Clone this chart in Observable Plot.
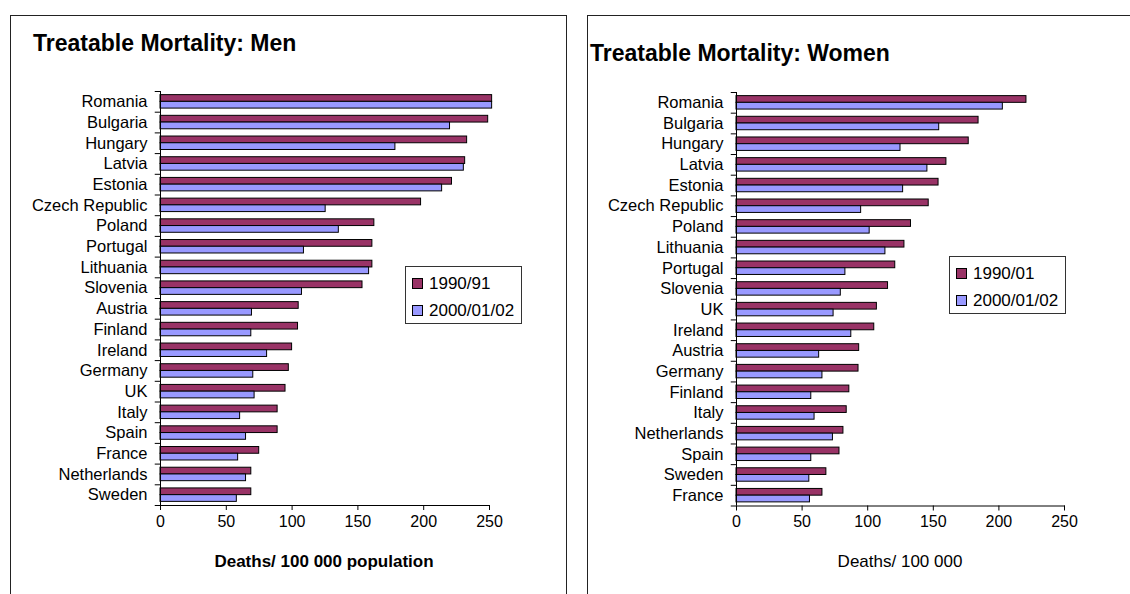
<!DOCTYPE html>
<html><head><meta charset="utf-8">
<script src="https://cdn.jsdelivr.net/npm/d3@7"></script>
<script src="https://cdn.jsdelivr.net/npm/@observablehq/plot@0.6"></script>
<style>
body{margin:0;background:#fff;font-family:"Liberation Sans",Arial,sans-serif;color:#000;}
#root{position:relative;width:1130px;height:594px;overflow:hidden;background:#fff;}
.frame{position:absolute;border:1.5px solid #222;box-sizing:border-box;}
.title{position:absolute;font-weight:bold;font-size:23px;white-space:nowrap;line-height:1;}
.plot{position:absolute;top:0;}
.xlabel{position:absolute;font-size:17px;white-space:nowrap;transform:translateX(-50%);line-height:1;}
.legend{position:absolute;border:1px solid #333;background:#fff;box-sizing:border-box;font-size:17px;}
.legend .row{position:absolute;left:6px;display:flex;align-items:center;white-space:nowrap;line-height:1;}
.legend .sw{width:9px;height:9px;border:1px solid #000;margin-right:6px;}
</style>
</head><body>
<div id="root"></div>
<script>
const series = ["1990/91", "2000/01/02"];
const seriesWomen = ["1990/01", "2000/01/02"];
const colors = ["#993366", "#9999FF"];
const xTicks = [0, 50, 100, 150, 200, 250];

const menCountries = ["Romania","Bulgaria","Hungary","Latvia","Estonia","Czech Republic","Poland","Portugal","Lithuania","Slovenia","Austria","Finland","Ireland","Germany","UK","Italy","Spain","France","Netherlands","Sweden"];
const men1990 = [252,249,233,231.5,221.5,198,162.5,161,161,153.5,105,104.5,100,97.5,95,89,89,75,69,69];
const men2000 = [252,220,178.5,230.5,214,125.5,135.5,109,158.5,107.5,69.5,69,81,70.5,71.5,60.5,65,59,65,58];

const womenCountries = ["Romania","Bulgaria","Hungary","Latvia","Estonia","Czech Republic","Poland","Lithuania","Portugal","Slovenia","UK","Ireland","Austria","Germany","Finland","Italy","Netherlands","Spain","Sweden","France"];
const women1990 = [221,184.5,177,160,154,146.5,133,128,121,115.5,107,105,93.5,93,86,84,81.5,78.5,68.5,65.5];
const women2000 = [203,154.5,125,145.5,127,95,101.5,113.5,83,79.5,74,87.5,63,65.5,57,59.5,73.5,57,55.5,56];

const root = document.getElementById("root");

function panel({countries, a, b, left, width, mTop, mBottom, mLeft, mRight}) {
  const height = 594;
  const rows = countries.map((c, i) => ({country: c, a: a[i], b: b[i]}));
  const band = (height - mTop - mBottom) / countries.length;
  const barH = band * 0.325;
  const gap = (band - 2 * barH) / 2;
  const svg = Plot.plot({
    width, height,
    marginTop: mTop, marginBottom: mBottom, marginLeft: mLeft, marginRight: mRight,
    style: {fontFamily: '"Liberation Sans", Arial, sans-serif', fontSize: "16px", color: "#000", background: "transparent", overflow: "visible"},
    x: {domain: [0, 250], label: null},
    y: {domain: countries, padding: 0, round: false, label: null},
    marks: [
      Plot.barX(rows, {y: "country", x: "a", fill: colors[0], stroke: "#000", strokeWidth: 1, insetTop: gap, insetBottom: band - gap - barH}),
      Plot.barX(rows, {y: "country", x: "b", fill: colors[1], stroke: "#000", strokeWidth: 1, insetTop: gap + barH, insetBottom: gap}),
      Plot.ruleY(countries, {y: d => d, x1: -4, x2: 0, dy: -band / 2, stroke: "#000"}),
      Plot.ruleY([countries[countries.length - 1]], {y: d => d, x1: -4, x2: 0, dy: band / 2, stroke: "#000"}),
      Plot.ruleX([0], {stroke: "#000"}),
      Plot.frame({anchor: "bottom", stroke: "#000"}),
      Plot.axisX({ticks: xTicks, tickSize: 5, tickPadding: 5, fontSize: 16, label: null}),
      Plot.axisY({tickSize: 0, tickPadding: 13, fontSize: 16.5, label: null})
    ]
  });
  svg.classList.add("plot");
  svg.style.left = left + "px";
  root.appendChild(svg);
}

function el(cls, style, html) {
  const d = document.createElement("div");
  d.className = cls;
  Object.assign(d.style, style);
  if (html != null) d.innerHTML = html;
  root.appendChild(d);
  return d;
}

function legend(labels, l, t) {
  const lg = el("legend", {left: l + "px", top: t + "px", width: "117px", height: "58px"});
  labels.forEach((s, i) => {
    const r = document.createElement("div");
    r.className = "row";
    r.style.top = (i === 0 ? 8 : 35) + "px";
    r.innerHTML = `<span class="sw" style="background:${colors[i]}"></span><span>${s}</span>`;
    lg.appendChild(r);
  });
}

// frames
el("frame", {left: "10px", top: "15px", width: "557px", height: "600px"});
el("frame", {left: "587px", top: "15px", width: "560px", height: "600px"});

panel({countries: menCountries, a: men1990, b: men2000, left: 0, width: 565, mTop: 91, mBottom: 89, mLeft: 160, mRight: 76});
panel({countries: womenCountries, a: women1990, b: women2000, left: 576, width: 554, mTop: 92, mBottom: 88.5, mLeft: 160, mRight: 66});

el("title", {left: "33px", top: "32px"}, "Treatable Mortality: Men");
el("title", {left: "590px", top: "42px"}, "Treatable Mortality: Women");

el("xlabel", {left: "324px", top: "553px", fontWeight: "bold"}, "Deaths/ 100 000 population");
el("xlabel", {left: "900px", top: "553px"}, "Deaths/ 100 000");

legend(series, 405, 266);
legend(seriesWomen, 949, 256);
</script>
</body></html>
